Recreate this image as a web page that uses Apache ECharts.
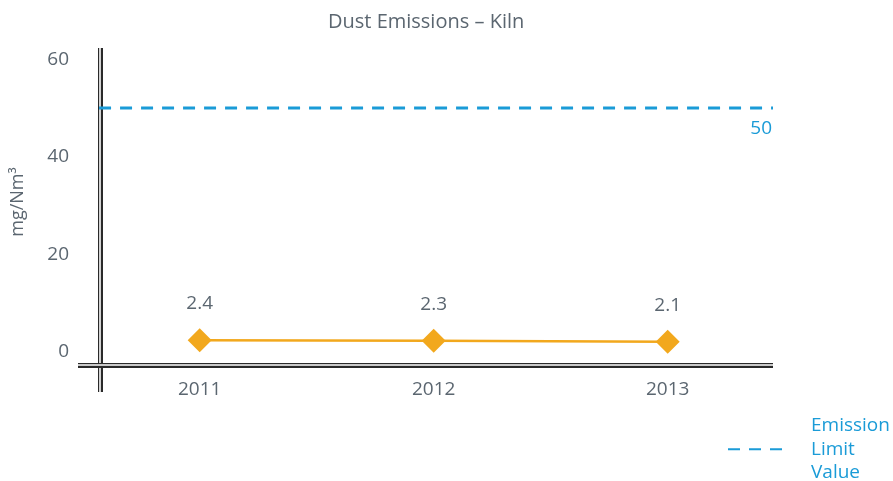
<!DOCTYPE html>
<html>
<head>
<meta charset="utf-8">
<script src="https://cdn.jsdelivr.net/npm/echarts@6/dist/echarts.min.js"></script>
<style>
  html, body { margin: 0; padding: 0; background: #fff; }
  #main { width: 893px; height: 481px; }
</style>
</head>
<body>
<div id="main"></div>
<script>
// data
var years = [2011, 2012, 2013];
var dust = [2.4, 2.3, 2.1];
var limitValue = 50;
var limitName = 'Emission Limit Value';
var yTicks = [0, 20, 40, 60];

// axis extents (value units)
var xMin = 2010.48, xMax = 2013.45, yAxisAt = 2010.57;
var yMin = -8.2, yMax = 62.3;

var grey = '#5b6670';
var blue = '#1a9bd7';
var orange = '#f2a81d';
var font = 'Open Sans';

var dustData = [];
for (var i = 0; i < years.length; i++) {
    dustData.push([years[i], dust[i]]);
}

function axisPair(isX, dark) {
    var ax = {
        type: 'value',
        min: isX ? xMin : yMin,
        max: isX ? xMax : yMax,
        position: isX ? 'bottom' : 'left',
        offset: isX ? -27 : -22,
        splitLine: { show: false },
        axisTick: { show: false },
        axisLine: {
            show: true,
            onZero: false,
            lineStyle: { color: dark ? '#2a2a2a' : '#ffffff', width: dark ? 5 : 1.6, cap: 'butt' }
        },
        axisLabel: { show: false }
    };
    if (dark) {
        ax.axisLabel = {
            show: true,
            customValues: isX ? years : yTicks,
            formatter: function (v) { return String(v); },
            color: grey,
            fontSize: 19,
            fontFamily: font,
            margin: isX ? 15 : 31
        };
        if (!isX) {
            ax.name = 'mg/Nm³';
            ax.nameLocation = 'middle';
            ax.nameGap = 73;
            ax.nameTextStyle = { color: grey, fontSize: 18, fontFamily: font, padding: [0, 0, 0, 36] };
        }
    }
    return ax;
}

var myChart = echarts.init(document.getElementById('main'));

var option = {
    animation: false,
    title: {
        text: 'Dust Emissions – Kiln',
        left: 323,
        top: 7,
        textStyle: { color: grey, fontSize: 20, fontWeight: 'normal', fontFamily: font }
    },
    legend: {
        data: [limitName],
        left: 727,
        top: 414,
        padding: 0,
        itemWidth: 62,
        itemHeight: 12,
        itemGap: 0,
        itemStyle: { opacity: 0 },
        formatter: function (name) { return name.split(' ').join('\n'); },
        textStyle: { color: blue, fontSize: 19, fontFamily: font, lineHeight: 23.5, padding: [0, 0, 0, 16] }
    },
    grid: { left: 78, right: 120, top: 48, bottom: 89 },
    xAxis: [axisPair(true, true), axisPair(true, false)],
    yAxis: [axisPair(false, true), axisPair(false, false)],
    series: [
        {
            name: limitName,
            type: 'line',
            symbol: 'none',
            silent: true,
            lineStyle: { color: blue, width: 3, type: [12, 9] },
            itemStyle: { color: blue },
            endLabel: {
                show: true,
                formatter: String(limitValue),
                align: 'right',
                offset: [-9, 21],
                color: blue,
                fontSize: 19,
                fontFamily: font
            },
            data: [[yAxisAt, limitValue], [xMax, limitValue]]
        },
        {
            name: 'Dust',
            type: 'line',
            symbol: 'diamond',
            symbolSize: 24,
            lineStyle: { color: orange, width: 2.5 },
            itemStyle: { color: orange },
            label: {
                show: true,
                position: 'top',
                distance: 15,
                color: grey,
                fontSize: 19,
                fontFamily: font,
                formatter: function (p) { return p.value[1].toFixed(1); }
            },
            data: dustData
        }
    ]
};
myChart.setOption(option);
</script>
</body>
</html>
